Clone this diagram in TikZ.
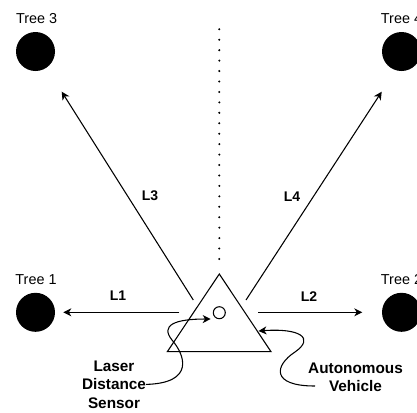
\documentclass[tikz,border=0pt]{standalone}
\usepackage{fontspec}
\setmainfont{Liberation Sans}
\usetikzlibrary{arrows.meta}
\begin{document}
\begin{tikzpicture}[x=0.75pt,y=-0.75pt,
  tree/.style={circle,fill=black,minimum size=29.25pt,inner sep=0pt},
  treelabel/.style={font=\fontsize{10.8}{13}\selectfont,inner sep=0pt},
  dist/.style={font=\bfseries\fontsize{10.5}{12}\selectfont,inner sep=0pt},
  callout/.style={font=\bfseries\fontsize{11.5}{13.8}\selectfont,align=center,inner sep=0pt},
  tip/.style={-{Stealth[length=6pt,width=6pt,inset=1.8pt]}},
  ray/.style={line width=0.8pt,tip},
  pointer/.style={line width=0.8pt,tip},
]
\useasboundingbox (0,0) rectangle (417,412);

% trees
\node[tree] (t3) at (35.5,51.5) {};
\node[tree] (t4) at (401.5,51.5) {};
\node[tree] (t1) at (35.5,312.3) {};
\node[tree] (t2) at (401.5,312.3) {};
\node[treelabel] (t3l) at (36.7,18.7) {Tree 3};
\node[treelabel] (t4l) at (401.5,18.7) {Tree 4};
\node[treelabel] (t1l) at (36,279.2) {Tree 1};
\node[treelabel] (t2l) at (401.5,279.2) {Tree 2};

% vehicle and sensor
\coordinate (apex) at (219.3,274);
\coordinate (bl) at (167.3,351.7);
\coordinate (br) at (271,351.7);
\draw[line width=0.8pt] (apex) -- (br) -- (bl) -- cycle;
\node[circle,draw,line width=0.8pt,minimum size=9pt,inner sep=0pt] (sensor) at (219.3,312.7) {};

% centre line
\coordinate (ctop) at (219.3,29.3);
\coordinate (cbot) at (219.3,259);
\draw[line width=1.7pt,line cap=round,dash pattern=on 0pt off 7.83pt] (ctop) -- (cbot);

% distance rays
\coordinate (l1s) at (179.3,312.3);
\coordinate (l1e) at (63.3,312.3);
\coordinate (l2s) at (258.3,312.3);
\coordinate (l2e) at (362.3,312.3);
\coordinate (l3s) at (193.3,300);
\coordinate (l3e) at (61.7,91.7);
\coordinate (l4s) at (246,300);
\coordinate (l4e) at (381.7,91.7);
\draw[ray] (l1s) -- (l1e);
\draw[ray] (l2s) -- (l2e);
\draw[ray] (l3s) -- (l3e);
\draw[ray] (l4s) -- (l4e);
\node[dist] (L1) at (118,295.5) {L1};
\node[dist] (L2) at (309,296.5) {L2};
\node[dist] (L3) at (150,195.5) {L3};
\node[dist] (L4) at (292,196.5) {L4};

% callouts
\node[callout] (laser) at (114,384.4) {Laser\\Distance\\Sensor};
\node[callout] (auto) at (355.5,377.5) {Autonomous\\Vehicle};
\coordinate (lasertip) at (210.7,319);
\coordinate (autostart) at (315,386);
\coordinate (autotip) at (258.5,331);
\draw[pointer] (laser.east) .. controls (195,383) and (185,355) .. (172,340)
  .. controls (160,325) and (175,319) .. (lasertip);
\draw[pointer] (autostart) .. controls (270,386) and (275,365) .. (295,352)
  .. controls (315,338) and (300,328) .. (autotip);
\end{tikzpicture}
\end{document}
